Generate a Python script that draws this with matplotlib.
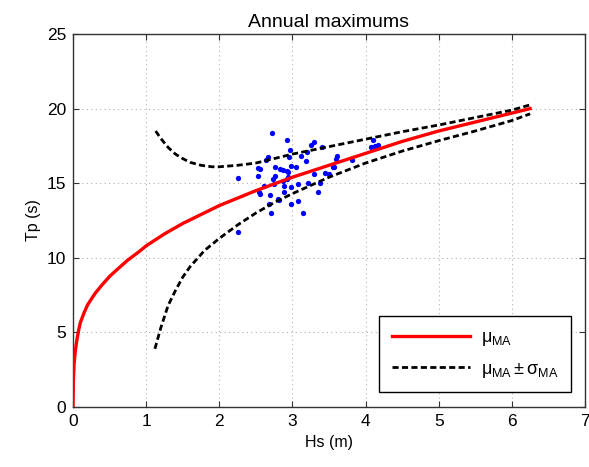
import matplotlib
matplotlib.use("Agg")
import matplotlib.pyplot as plt

plt.rcParams['font.family'] = ['Liberation Sans', 'DejaVu Sans']
plt.rcParams['mathtext.fontset'] = 'custom'
plt.rcParams['mathtext.rm'] = 'Liberation Sans'
plt.rcParams['mathtext.it'] = 'Liberation Sans'
plt.rcParams['mathtext.bf'] = 'Liberation Sans:bold'

# Mean curve
hs_mean = [0, 0.005, 0.015, 0.03, 0.05, 0.075, 0.1, 0.15, 0.2, 0.3, 0.4, 0.5, 0.6, 0.75,
           0.9, 1.0, 1.25, 1.5, 1.75, 2.0, 2.5, 3.0, 3.5, 4.0, 4.5, 5.0, 5.5, 6.0, 6.25]
tp_mean = [0, 1.8, 2.9, 3.7, 4.4, 5.1, 5.65, 6.3, 6.85, 7.6, 8.2, 8.75, 9.2, 9.85,
           10.4, 10.8, 11.6, 12.3, 12.9, 13.5, 14.5, 15.4, 16.2, 17.0, 17.8, 18.5, 19.1, 19.7, 20.0]

# Mean + sigma
hs_upper = [1.13, 1.2, 1.3, 1.4, 1.5, 1.6, 1.75, 1.9, 2.0, 2.25, 2.5, 3.0, 3.5, 4.0,
            4.5, 5.0, 5.5, 6.0, 6.25]
tp_upper = [18.5, 18.0, 17.4, 16.95, 16.65, 16.4, 16.2, 16.1, 16.1, 16.2, 16.35, 16.95,
            17.45, 17.95, 18.45, 18.9, 19.4, 19.9, 20.25]

# Mean - sigma
hs_lower = [1.12, 1.2, 1.3, 1.4, 1.5, 1.6, 1.8, 2.0, 2.25, 2.5, 2.75, 3.0, 3.5, 4.0,
            4.5, 5.0, 5.5, 6.0, 6.25]
tp_lower = [3.9, 5.3, 6.8, 7.8, 8.7, 9.4, 10.5, 11.3, 12.2, 13.0, 13.7, 14.3, 15.4,
            16.35, 17.15, 17.85, 18.5, 19.2, 19.65]

# Annual maximum observations
hs_obs = [2.72, 2.92, 3.30, 3.25, 3.40, 2.96, 3.20, 2.66, 2.64, 2.95, 3.12, 3.19,
          2.53, 2.56, 2.76, 2.83, 2.87, 2.98, 3.05, 2.53, 2.25, 2.76, 2.73, 2.94,
          2.87, 2.92, 2.94, 2.93, 3.30, 3.44, 3.50, 3.55, 3.57, 3.60, 3.61, 3.81,
          4.07, 4.10, 4.13, 4.17, 2.61, 2.75, 2.89, 2.98, 3.07, 3.21, 3.38, 2.54,
          2.56, 2.69, 2.89, 3.35, 2.80, 2.82, 2.68, 2.98, 3.08, 2.71, 3.15, 2.25]
tp_obs = [18.38, 17.9, 17.75, 17.59, 17.45, 17.2, 17.12, 16.75, 16.55, 16.75, 16.82, 16.5,
          16.0, 15.95, 16.1, 15.93, 15.88, 16.17, 16.1, 15.5, 15.32, 15.5, 15.28, 15.39,
          15.12, 15.84, 15.73, 15.28, 15.6, 15.66, 15.6, 16.07, 16.07, 16.62, 16.8, 16.56,
          17.45, 17.9, 17.52, 17.59, 14.82, 14.92, 14.82, 14.72, 14.94, 14.99, 14.99, 14.38,
          14.27, 14.22, 14.38, 14.38, 13.93, 13.86, 13.59, 13.59, 13.81, 13.03, 12.98, 11.75]

xticks = [0, 1, 2, 3, 4, 5, 6, 7]
yticks = [0, 5, 10, 15, 20, 25]

fig = plt.figure(figsize=(5.89, 4.67), dpi=100)
ax = fig.add_axes([73/589, 60/467, 512/589, 373/467])

ax.plot(hs_obs, tp_obs, 'o', color='#0000ff', markersize=3.8, markeredgewidth=0, zorder=3)
ax.plot(hs_mean, tp_mean, '-', color='#ff0000', linewidth=2.4, label=r'$\mu_{\mathrm{MA}}$', zorder=4)
ax.plot(hs_upper, tp_upper, '--', color='black', linewidth=2.0, dashes=(2.2, 1.2),
        label=r'$\mu_{\mathrm{MA}}\pm\sigma_{\mathrm{MA}}$', zorder=4)
ax.plot(hs_lower, tp_lower, '--', color='black', linewidth=2.0, dashes=(2.2, 1.2), zorder=4)

ax.set_xlim(0, 7)
ax.set_ylim(0, 25)
ax.set_xticks(xticks)
ax.set_yticks(yticks)
ax.tick_params(direction='in', top=True, right=True, length=4, labelsize=12.5,
               color='#333333', pad=5)
ax.grid(True, linestyle=(0, (1, 3)), color='#b0b0b0', linewidth=0.8)
for s in ax.spines.values():
    s.set_color('#333333')
    s.set_linewidth(1.0)

ax.set_title('Annual maximums', fontsize=14, pad=5)
ax.set_xlabel('Hs (m)', fontsize=11.5)
ax.set_ylabel('Tp (s)', fontsize=11.5)

leg = ax.legend(loc='lower right', fontsize=13, handlelength=4.3, fancybox=False,
                edgecolor='black', framealpha=1, borderpad=0.7, labelspacing=0.7,
                handletextpad=0.6, bbox_to_anchor=(0.99, 0.015))
leg.get_frame().set_linewidth(1.0)

fig.savefig('out.png', dpi=100)
